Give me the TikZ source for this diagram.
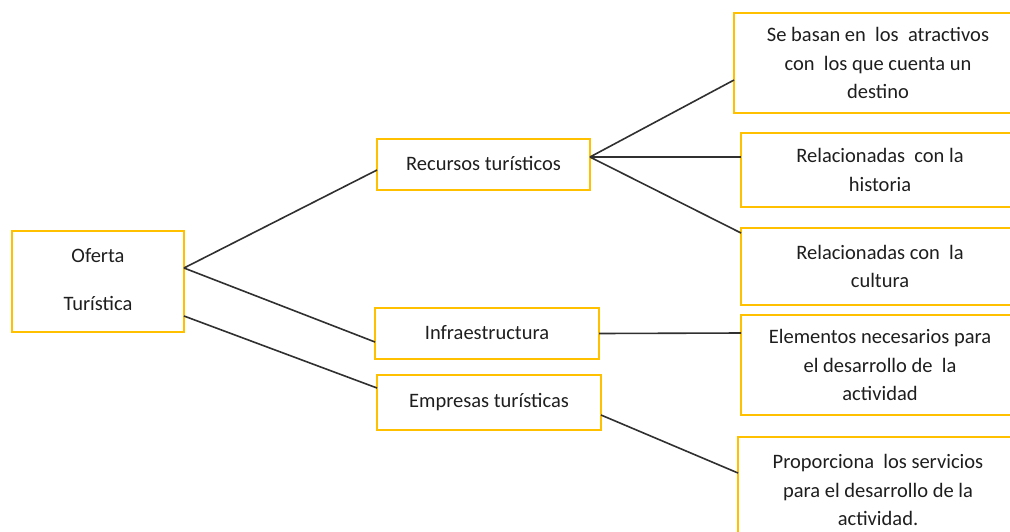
\documentclass[tikz,border=0pt]{standalone}
\usepackage{fontspec}
\setmainfont{Carlito}
\definecolor{boxgold}{HTML}{FFC000}
\definecolor{txt}{HTML}{1E1E1E}
\definecolor{wire}{HTML}{303030}
\begin{document}
\begin{tikzpicture}[x=1pt,y=-1pt,
  box/.style={draw=boxgold,line width=1.6pt,rectangle,inner sep=0pt,outer sep=0pt,
    align=center,text=txt,font=\fontsize{20.5}{28.5}\selectfont},
  wirestyle/.style={draw=wire,line width=1.6pt}]
\useasboundingbox (0,0) rectangle (1010,531);
% left box
\node[box,minimum width=172pt,minimum height=101pt] (of) at (98,281.5) {\raisebox{4pt}{Oferta}\\[19pt]\raisebox{4pt}{Turística}};
% middle boxes
\node[box,minimum width=213pt,minimum height=51pt] (rec) at (483.5,164.5) {\raisebox{3pt}{Recursos turísticos}};
\node[box,minimum width=224pt,minimum height=51pt] (inf) at (487,333.5) {\raisebox{3pt}{Infraestructura}};
\node[box,minimum width=224pt,minimum height=55pt] (emp) at (489,402.5) {Empresas turísticas};
% right boxes
\node[box,minimum width=288pt,minimum height=100pt] (r1) at (878,63) {Se basan en~ los~ atractivos\\con~ los que cuenta un\\destino};
\node[box,minimum width=278pt,minimum height=74pt] (r2) at (880,170) {Relacionadas~ con la\\historia};
\node[box,minimum width=278pt,minimum height=77pt] (r3) at (880,266.5) {Relacionadas con~ la\\cultura};
\node[box,minimum width=278pt,minimum height=100pt] (r4) at (880,365) {Elementos necesarios para\\el desarrollo de~ la\\actividad};
\node[box,minimum width=280pt,minimum height=106pt] (r5) at (878,490) {Proporciona~ los servicios\\para el desarrollo de la\\actividad.};
% connectors
\draw[wirestyle] ([yshift=13.5pt]of.east) -- ([yshift=-5.5pt]rec.west);
\draw[wirestyle] ([yshift=13.5pt]of.east) -- ([yshift=-8.5pt]inf.west);
\draw[wirestyle] ([yshift=-34.5pt]of.east) -- ([yshift=14.5pt]emp.west);
\draw[wirestyle] ([yshift=7.5pt]rec.east) -- ([yshift=-17pt]r1.west);
\draw[wirestyle] ([yshift=7.5pt]rec.east) -- ([yshift=13pt]r2.west);
\draw[wirestyle] ([yshift=7.5pt]rec.east) -- ([yshift=33.5pt]r3.west);
\draw[wirestyle] (inf.east) -- ([yshift=32pt]r4.west);
\draw[wirestyle] ([yshift=-12.5pt]emp.east) -- ([yshift=17pt]r5.west);
\end{tikzpicture}
\end{document}
